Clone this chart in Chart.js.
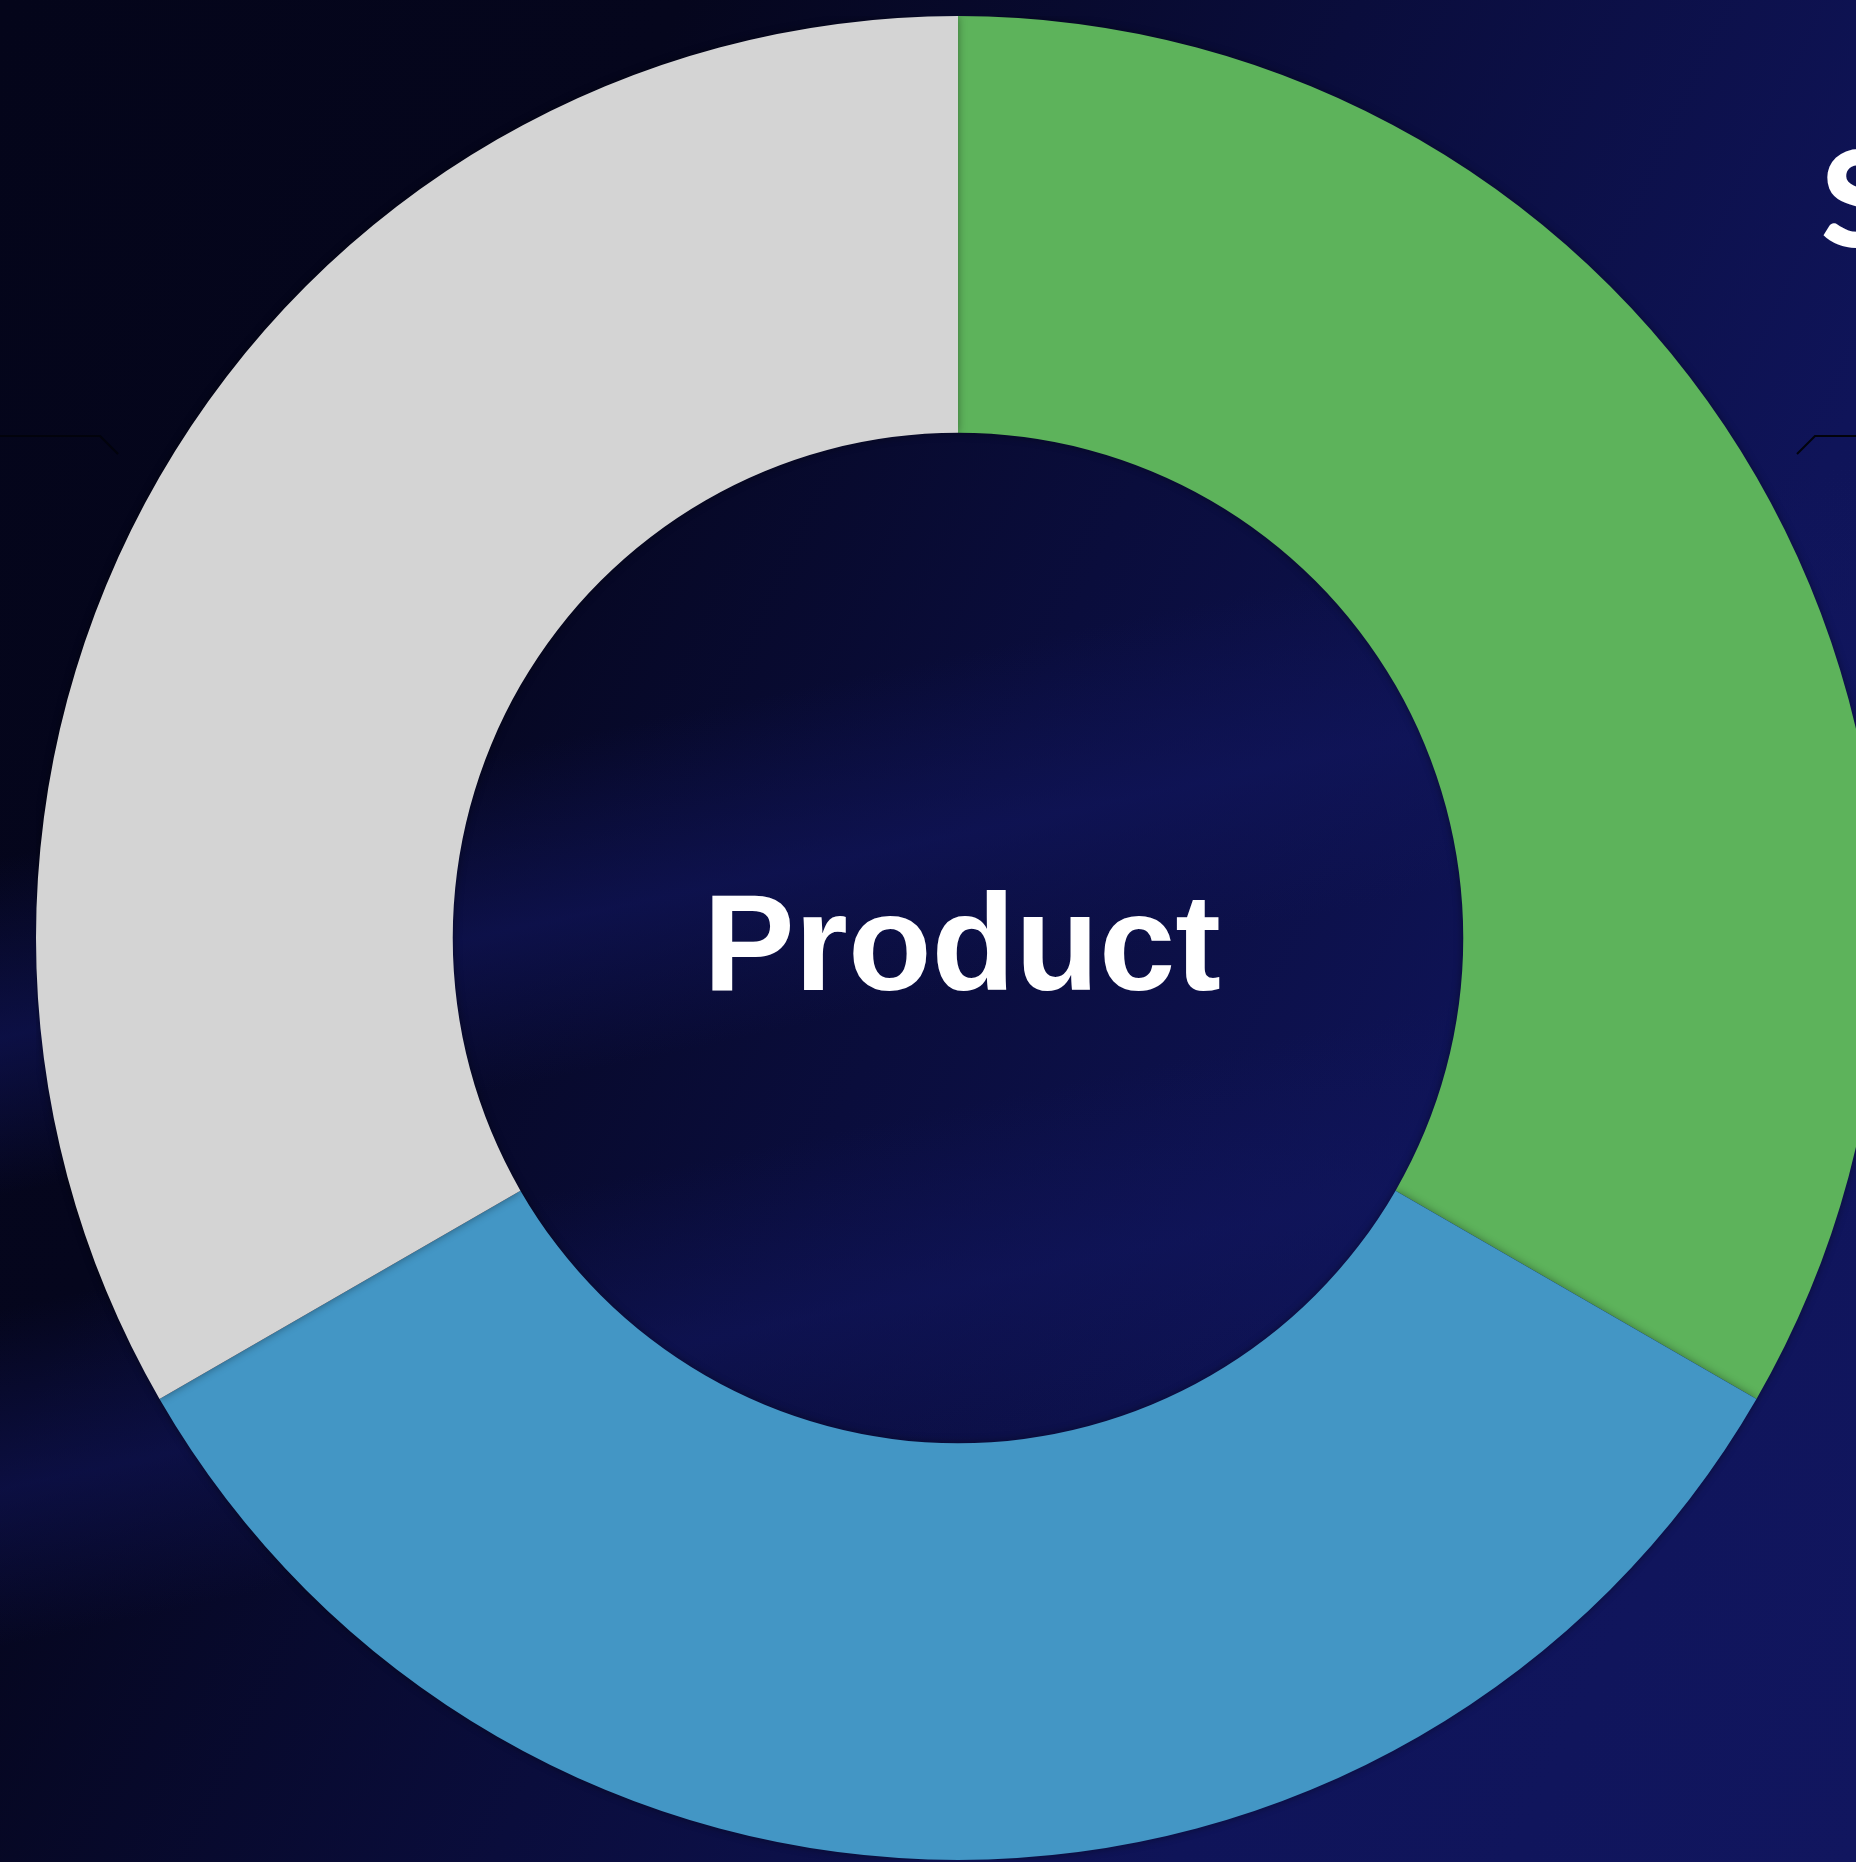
<!DOCTYPE html>
<html>
<head>
<meta charset="utf-8">
<script src="https://cdn.jsdelivr.net/npm/chart.js@4.4.0/dist/chart.umd.min.js"></script>
<style>
    html, body {
        margin: 0;
        padding: 0;
        width: 1856px;
        height: 1862px;
        overflow: hidden;
    }
    body {
        position: relative;
        background:
            linear-gradient(168deg, rgba(17,22,95,0) 0%, rgba(17,22,95,0) 38%, rgba(17,22,95,0.6) 46%, rgba(17,22,95,0) 53%, rgba(17,22,95,0) 58%, rgba(17,22,95,0.55) 66%, rgba(17,22,95,0) 73%),
            linear-gradient(115deg, #04051a 0%, #05061d 25%, #0a0d3c 50%, #0f1459 75%, #11165f 100%);
    }
    #grafico {
        position: absolute;
        left: 36px;
        top: 16px;
    }
    #titulo {
        position: absolute;
        left: 1821px;
        top: 129px;
        font-family: "Lato", sans-serif;
        font-weight: 900;
        font-size: 134px;
        line-height: 1;
        color: #ffffff;
        white-space: nowrap;
    }
    #lineas {
        position: absolute;
        left: 0;
        top: 0;
    }
</style>
</head>
<body>
<svg id="lineas" width="1856" height="1862">
    <polyline points="0,436 100,436 118,454" fill="none" stroke="#02030c" stroke-width="2"/>
    <polyline points="1856,436 1815,436 1797,454" fill="none" stroke="#02030c" stroke-width="2"/>
</svg>
<canvas id="grafico" width="1844" height="1844"></canvas>
<div id="titulo">S</div>
<script>
// datos del grafico
const etiquetas = ["Producto A", "Producto B", "Producto C"]
const valores = [1, 1, 1]
const colores = ["#5db35b", "#4396c5", "#d4d4d4"]
const textoCentro = "Product"

// sombra suave entre los segmentos
const sombra = {
    id: "sombra",
    beforeDatasetsDraw(chart) {
        const ctx = chart.ctx
        ctx.save()
        ctx.shadowColor = "rgba(0,0,0,0.4)"
        ctx.shadowBlur = 8
    },
    afterDatasetsDraw(chart) {
        chart.ctx.restore()
    }
}

// texto en el centro de la dona
const centro = {
    id: "centro",
    afterDraw(chart) {
        const ctx = chart.ctx
        const area = chart.chartArea
        const x = (area.left + area.right) / 2
        const y = (area.top + area.bottom) / 2
        ctx.save()
        ctx.font = "bold 137px 'Liberation Sans', Arial, sans-serif"
        ctx.fillStyle = "#ffffff"
        ctx.textAlign = "center"
        ctx.textBaseline = "middle"
        ctx.fillText(textoCentro, x + 4, y + 14)
        ctx.restore()
    }
}

const grafica = document.getElementById("grafico").getContext("2d")

const myChart = new Chart(grafica, {
    type: "doughnut",
    data: {
        labels: etiquetas,
        datasets: [
            {
                data: valores,
                backgroundColor: colores,
                borderWidth: 0
            }
        ]
    },
    options: {
        responsive: false,
        animation: false,
        cutout: "54.8%",
        layout: { padding: 0 },
        plugins: {
            legend: { display: false },
            tooltip: { enabled: false }
        }
    },
    plugins: [sombra, centro]
})
</script>
</body>
</html>
